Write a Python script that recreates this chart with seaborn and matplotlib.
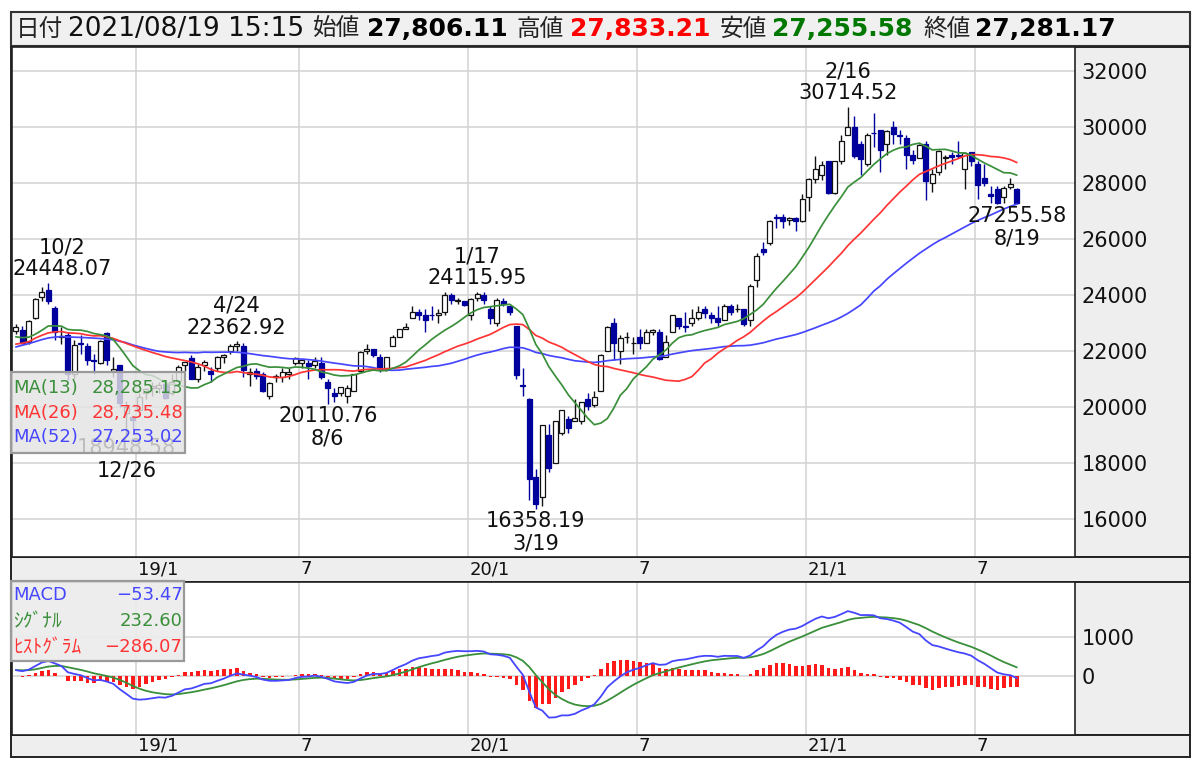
import numpy as np
import pandas as pd
import matplotlib
matplotlib.use("Agg")
import matplotlib.pyplot as plt
import matplotlib.transforms as mtransforms
from matplotlib.patches import Rectangle
import seaborn as sns

sns.set_theme(style="white")
plt.rcParams["font.family"] = ["DejaVu Sans", "Noto Sans CJK JP"]

# ---------------- data (weekly Nikkei 225) ----------------
weeks = pd.date_range("2018-08-27", "2021-08-16", freq="W-MON")
weeks = weeks[weeks != pd.Timestamp("2019-04-29")]   # Golden Week: no trading

opens = [22710, 22750, 22350, 23200, 23930, 24200, 23550, 22500, 22600, 21200,
         22300, 22200, 21700, 21600, 22650, 21300, 21500, 19785, 19655, 19900,
         20500, 20700, 20700, 20850, 20500, 20950, 21500, 21750, 21000, 21500,
         21300, 21400, 21800, 22000, 22200, 22200, 21200, 21300, 21200, 20400,
         21100, 21100, 21200, 21600, 21600, 21600, 21500, 21600, 20900, 20500,
         20500, 20400, 20600, 21300, 22000, 22100, 21800, 21400, 22200, 22500,
         22800, 23200, 23400, 23300, 23300, 23300, 23400, 24000, 23800, 23800,
         23300, 23900, 24000, 23500, 23000, 23800, 23600, 22900, 20800, 20300,
         17500, 16800, 19000, 18000, 19100, 19600, 19500, 19500, 20300, 20100,
         20600, 22000, 23000, 22000, 22500, 22300, 22500, 22300, 22700, 22700,
         21800, 22700, 23200, 22900, 23000, 23200, 23500, 23300, 23200, 23100,
         23600, 23500, 23500, 23100, 24545, 25650, 25864, 26800, 26800, 26700,
         26750, 26650, 27500, 28150, 28300, 28800, 27650, 28800, 29700, 30000,
         29400, 28700, 29800, 29900, 29400, 30000, 29700, 29600, 29000, 28900,
         29400, 28000, 28400, 28900, 29000, 29000, 28500, 29100, 28700, 28200,
         27600, 27800, 27500, 27850, 27806.11]
highs = [22970, 22890, 23100, 23900, 24286, 24448.07, 23600, 22850, 22700, 22400,
         22600, 22300, 21900, 22400, 22700, 21800, 21500, 20211, 19692, 20500,
         20700, 20900, 20900, 20980, 21200, 21500, 21600, 21860, 21550, 21700,
         21450, 21850, 21900, 22277, 22362.92, 22300, 21400, 21400, 21260, 20900,
         21200, 21400, 21400, 21800, 21700, 21700, 21800, 21800, 21000, 20700,
         20700, 20800, 21200, 22000, 22255, 22100, 21900, 21800, 22600, 22800,
         23000, 23600, 23500, 23500, 23600, 23500, 24100, 24091, 23900, 23800,
         23900, 24115.95, 24100, 23600, 23900, 23900, 23600, 22900, 21400, 20350,
         17785, 19389, 19400, 19500, 19900, 19700, 20300, 20200, 20500, 20600,
         21900, 22900, 23185, 22600, 22700, 22500, 22800, 22800, 22800, 22800,
         22600, 23300, 23200, 23400, 23500, 23600, 23600, 23400, 23600, 23700,
         23700, 23700, 23500, 24400, 25500, 25900, 26700, 26900, 26900, 26800,
         26800, 27600, 28200, 28979, 28800, 28800, 28800, 29700, 30714.52, 30400,
         29500, 29800, 30500, 29900, 29900, 30200, 29900, 29700, 29200, 29400,
         29500, 28500, 29200, 29000, 29100, 29500, 29100, 29100, 28800, 28700,
         27900, 27900, 27900, 28200, 27833.21]
lows = [22630, 22250, 22270, 23150, 23800, 23700, 22400, 22250, 20971, 21000,
        21900, 21500, 21200, 21550, 21500, 21100, 20000, 18948.58, 19241, 19800,
        20300, 20400, 20500, 20300, 20450, 20900, 21300, 21000, 20900, 21300,
        20900, 21300, 21600, 21900, 22000, 21100, 20750, 21000, 20550, 20290,
        20900, 20900, 21000, 21500, 21400, 21000, 21400, 21000, 20110.76, 20200,
        20400, 20173, 20600, 21300, 21900, 21800, 21277, 21300, 22200, 22500,
        22800, 23200, 23100, 22700, 23100, 23000, 23300, 23700, 23700, 23600,
        23115, 23800, 23700, 22970, 22900, 23600, 23300, 21000, 20400, 16690,
        16358.19, 16480, 17700, 18000, 19000, 19100, 19500, 19400, 19900, 20000,
        20600, 22000, 21700, 21530, 22300, 21900, 22100, 22300, 22600, 21700,
        21800, 22700, 22800, 22700, 22900, 23100, 23200, 23000, 22900, 23100,
        23300, 23400, 22900, 22900, 24300, 25450, 25800, 26400, 26400, 26500,
        26300, 26600, 27000, 28000, 28100, 27600, 27600, 28700, 29700, 28900,
        28300, 28600, 29300, 28400, 29000, 29400, 29400, 28500, 28700, 28900,
        27385, 27700, 28300, 28500, 28700, 28900, 27795, 28600, 27420, 27900,
        27300, 27272, 27300, 27800, 27255.58]
closes = [22865, 22307, 23094, 23870, 24120, 23784, 22694, 22532, 21184, 22243,
          22250, 21680, 21646, 22351, 21679, 21375, 20166, 20014, 19561, 20359,
          20666, 20773, 20788, 20333, 20900, 21426, 21602, 21025, 21450, 21627,
          21205, 21807, 21870, 22200, 22259, 21344, 21250, 21117, 20601, 20884,
          21116, 21259, 21276, 21746, 21686, 21467, 21658, 21087, 20684, 20418,
          20710, 20704, 21199, 21988, 22079, 21879, 21410, 21799, 22493, 22800,
          22851, 23392, 23303, 23113, 23294, 23354, 24023, 23816, 23837, 23656,
          23850, 24041, 23827, 23205, 23828, 23688, 23386, 21143, 20749, 17431,
          16552, 19389, 17820, 19498, 19897, 19262, 19619, 20179, 20037, 20388,
          21877, 22863, 22305, 22478, 22512, 22306, 22290, 22696, 22751, 21710,
          22329, 23289, 22920, 22882, 23205, 23406, 23360, 23204, 23029, 23619,
          23410, 23516, 22977, 24325, 25385, 25527, 26644, 26751, 26652, 26763,
          26656, 27444, 28139, 28519, 28631, 27663, 28779, 29520, 30018, 28966,
          28864, 29717, 29792, 29176, 29854, 29768, 29683, 29020, 28813, 29357,
          28084, 28317, 29149, 28941, 28948, 28964, 29066, 28783, 27940, 28003,
          27548, 27283, 27820, 27977, 27281.17]
# weekly closes Aug 2017 - Aug 2018 (needed to start the averages)
pre_closes = [19691, 19274, 19909, 20296, 20356, 20690, 21155, 21457, 22008, 22539,
              22681, 22397, 22550, 22819, 22811, 22553, 22902, 22765, 23714, 23653,
              23808, 23631, 23274, 21382, 21720, 21892, 21181, 21469, 21676, 20617,
              21454, 21567, 21778, 22162, 22467, 22472, 22758, 22930, 22450, 22171,
              22694, 22851, 22516, 22305, 21788, 22597, 22698, 22713, 22525, 22298,
              22270, 22601]

# labelled extremes: (week, date text, value text, kind)
extremes = [("2018-10-01", "10/2", "24448.07", "high"),
            ("2019-04-22", "4/24", "22362.92", "high"),
            ("2020-01-13", "1/17", "24115.95", "high"),
            ("2021-02-15", "2/16", "30714.52", "high"),
            ("2018-12-24", "12/26", "18948.58", "low"),
            ("2019-08-05", "8/6", "20110.76", "low"),
            ("2020-03-16", "3/19", "16358.19", "low"),
            ("2021-08-16", "8/19", "27255.58", "low")]

header = [("日付", None), ("2021/08/19 15:15", None), ("始値", None),
          ("27,806.11", "open"), ("高値", None), ("27,833.21", "high"),
          ("安値", None), ("27,255.58", "low"), ("終値", None), ("27,281.17", "close")]
ma_legend = [("MA(13)", "28,285.13"), ("MA(26)", "28,735.48"), ("MA(52)", "27,253.02")]
macd_legend = [("MACD", "\u221253.47"), ("ｼｸﾞﾅﾙ", "232.60"), ("ﾋｽﾄｸﾞﾗﾑ", "\u2212286.07")]
month_labels = ["19/1", "7", "20/1", "7", "21/1", "7"]
month_starts = ["2019-01-01", "2019-07-01", "2020-01-01", "2020-07-01",
                "2021-01-01", "2021-07-01"]

# ---------------- derived series ----------------
n = len(closes)
idx = np.arange(n)
full = pd.Series(pre_closes + closes, dtype=float)
ma13 = full.rolling(13).mean().to_numpy()[-n:]
ma26 = full.rolling(26).mean().to_numpy()[-n:]
ma52 = full.rolling(52).mean().to_numpy()[-n:]
ema12 = full.ewm(span=12, adjust=False).mean()
ema26 = full.ewm(span=26, adjust=False).mean()
macd_full = ema12 - ema26
sig_full = macd_full.ewm(span=9, adjust=False).mean()
macd = macd_full.to_numpy()[-n:]
signal = sig_full.to_numpy()[-n:]
hist = macd - signal

# gridline after the week that contains the 1st of the month
month_pos = [int(np.searchsorted(weeks, pd.Timestamp(d), side="right")) - 1 + 0.5
             for d in month_starts]

# ---------------- colours ----------------
C_UP_EDGE = "#111111"
C_DOWN = "#00009c"
C_G = "#3a8f3a"
C_R = "#ff3535"
C_B = "#4646ff"
GRID = "#d2d2d2"
PANEL = "#eeeeee"

# ---------------- figure ----------------
W, H = 1200, 762
fig = plt.figure(figsize=(W / 100, H / 100), dpi=100)
bg = fig.add_axes([0, 0, 1, 1])
bg.set_xlim(0, W)
bg.set_ylim(H, 0)
bg.axis("off")


def prect(a, x0, y0, x1, y1, **kw):
    a.add_patch(Rectangle((x0, y0), x1 - x0, y1 - y0, **kw))


def fr(x0, y0, x1, y1):
    return [x0 / W, 1 - y1 / H, (x1 - x0) / W, (y1 - y0) / H]


prect(bg, 11, 12, 1190, 46, fc="#f0f0f0", ec="#333333", lw=1.5)
for (y0, y1) in [(47, 557), (557, 582), (582, 735), (735, 757)]:
    prect(bg, 11, y0, 1190, y1, fc=PANEL, ec="#222222", lw=1.4)

# header texts
hx = [16, 68, 313, 367, 517, 570, 720, 772, 923, 975]
hcol = {"open": "#000000", "high": "#ff0000", "low": "#007800", "close": "#000000"}
for (txt, kind), x in zip(header, hx):
    if kind is None and txt[0].isdigit():
        bg.text(x, 28.5, txt, fontsize=19, va="center", ha="left", color="#111111",
                family="DejaVu Sans")
    elif kind is None:
        bg.text(x, 29, txt, fontsize=17, va="center", ha="left", color="#222222",
                family=["Noto Sans CJK JP", "DejaVu Sans"])
    else:
        bg.text(x, 28.5, txt, fontsize=18, va="center", ha="left", color=hcol[kind],
                family="DejaVu Sans", fontweight="bold")

# ---------------- main price panel ----------------
ax = fig.add_axes(fr(12, 47, 1075, 557))
ax.set_facecolor("white")
ax.set_xlim(-0.585, 162.95)
ax.set_ylim(14662, 32857)
for v in range(16000, 32001, 2000):
    ax.axhline(v, color=GRID, lw=1.1, zorder=0)
for p in month_pos:
    ax.axvline(p, color=GRID, lw=1.1, zorder=0)

for i in range(n):
    o, h, l, c = opens[i], highs[i], lows[i], closes[i]
    up = c >= o
    col = C_UP_EDGE if up else C_DOWN
    ax.vlines(i, l, h, color=col, lw=1.0, zorder=2)
    ax.bar(i, max(abs(c - o), 8), bottom=min(o, c), width=0.78,
           facecolor="white" if up else C_DOWN, edgecolor=col, lw=0.9, zorder=3)

for ser, colr in [(ma52, C_B), (ma26, C_R), (ma13, C_G)]:
    sns.lineplot(x=idx, y=ser, ax=ax, color=colr, linewidth=1.25, zorder=4, legend=False)

week_index = {d.strftime("%Y-%m-%d"): k for k, d in enumerate(weeks)}
for wk, dtxt, vtxt, kind in extremes:
    k = week_index[wk]
    dx = 10 if k < 8 else 0
    if kind == "high":
        yv = highs[k]
        ax.annotate(vtxt, (k, yv), xytext=(dx, 9.8), textcoords="offset points",
                    ha="center", va="center", fontsize=15, color="#111111", zorder=6)
        ax.annotate(dtxt, (k, yv), xytext=(dx, 25.5), textcoords="offset points",
                    ha="center", va="center", fontsize=15, color="#111111", zorder=6)
    else:
        yv = lows[k]
        ax.annotate(vtxt, (k, yv), xytext=(dx, -8.3), textcoords="offset points",
                    ha="center", va="center", fontsize=15, color="#111111", zorder=6)
        ax.annotate(dtxt, (k, yv), xytext=(dx, -24.5), textcoords="offset points",
                    ha="center", va="center", fontsize=15, color="#111111", zorder=6)

ax.yaxis.tick_right()
ax.set_yticks(range(16000, 32001, 2000))
ax.set_yticklabels([str(v) for v in range(16000, 32001, 2000)])
ax.tick_params(axis="y", length=0, pad=4.8, labelsize=15, labelcolor="#111111")
ax.set_xticks([])
ax.set_ylabel("")
ax.set_xlabel("")
for s in ax.spines.values():
    s.set_color("#222222")
    s.set_linewidth(1.2)

# ---------------- MACD panel ----------------
ax2 = fig.add_axes(fr(12, 582, 1075, 735))
ax2.set_facecolor("white")
ax2.set_xlim(-0.585, 162.95)
ax2.set_ylim(-1501, 2392)
for v in [0, 1000]:
    ax2.axhline(v, color=GRID, lw=1.1, zorder=0)
for p in month_pos:
    ax2.axvline(p, color=GRID, lw=1.1, zorder=0)
ax2.bar(idx, hist, width=0.55, color="#ff1a1a", zorder=2, linewidth=0)
sns.lineplot(x=idx, y=signal, ax=ax2, color=C_G, linewidth=1.3, zorder=3, legend=False)
sns.lineplot(x=idx, y=macd, ax=ax2, color=C_B, linewidth=1.3, zorder=4, legend=False)
ax2.yaxis.tick_right()
ax2.set_yticks([0, 1000])
ax2.set_yticklabels(["0", "1000"])
ax2.tick_params(axis="y", length=0, pad=4.8, labelsize=15, labelcolor="#111111")
ax2.set_xticks([])
ax2.set_ylabel("")
ax2.set_xlabel("")
for s in ax2.spines.values():
    s.set_color("#222222")
    s.set_linewidth(1.2)

# month labels in the two strips
trans = mtransforms.blended_transform_factory(ax.transData, bg.transData)
for p, lab in zip(month_pos, month_labels):
    for yy in (569, 746):
        ax.text(p + 0.35, yy, lab, transform=trans, fontsize=13, ha="left",
                va="center", color="#111111", clip_on=False)

# ---------------- overlay legends ----------------
ov = fig.add_axes([0, 0, 1, 1])
ov.set_xlim(0, W)
ov.set_ylim(H, 0)
ov.axis("off")
ov.patch.set_alpha(0)
prect(ov, 11, 372, 185, 453, fc="#e4e4e4", alpha=0.82, ec="none")
prect(ov, 11, 372, 185, 453, fc="none", ec="#9a9a9a", lw=1.6)
for (lab, val), yy, colr in zip(ma_legend, [388, 412.5, 437], [C_G, C_R, C_B]):
    ov.text(13, yy, lab, fontsize=13, color=colr, ha="left", va="center")
    ov.text(183.5, yy, val, fontsize=13, color=colr, ha="right", va="center")
prect(ov, 11, 581, 184, 661, fc="#ececec", alpha=0.9, ec="none")
prect(ov, 11, 581, 184, 661, fc="none", ec="#9a9a9a", lw=1.6)
for (lab, val), yy, colr in zip(macd_legend, [595.5, 621.5, 647.5], [C_B, C_G, C_R]):
    fam = ["DejaVu Sans"] if lab == "MACD" else ["Noto Sans CJK JP", "DejaVu Sans"]
    ov.text(13, yy, lab, fontsize=13 if lab == "MACD" else 14, color=colr, ha="left",
            va="center", family=fam)
    ov.text(182.5, yy, val, fontsize=13, color=colr, ha="right", va="center")

fig.savefig("out.png", dpi=100)
